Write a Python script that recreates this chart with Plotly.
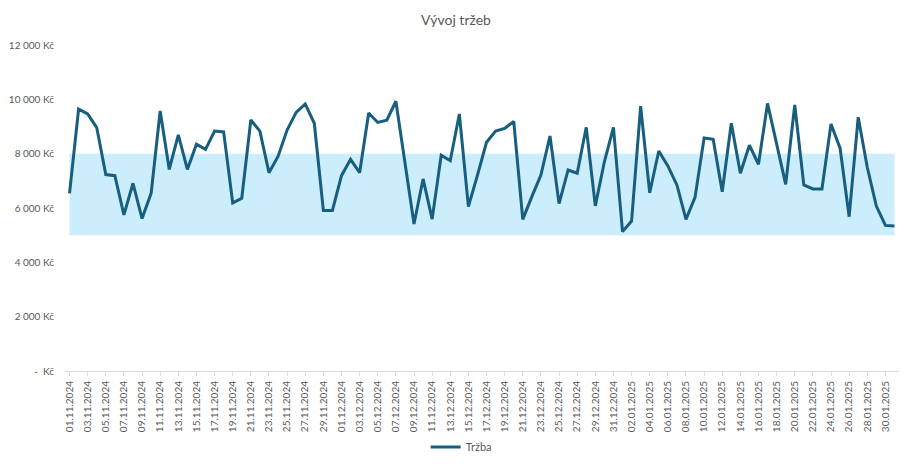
import pandas as pd
import plotly.graph_objects as go

dates = [d.strftime("%d.%m.%Y") for d in pd.date_range("2024-11-01", "2025-01-31", freq="D")]

trzba = [
    6540, 9640, 9460, 8960, 7230, 7190, 5750, 6910, 5610, 6540,
    9570, 7420, 8690, 7420, 8350, 8160, 8830, 8800, 6190, 6360,
    9240, 8830, 7300, 7900, 8870, 9520, 9830, 9120, 5910, 5910,
    7190, 7790, 7300, 9500, 9150, 9230, 9930, 7680, 5410, 7070,
    5590, 7940, 7740, 9460, 6050, 7210, 8420, 8830, 8930, 9190,
    5580, 6420, 7210, 8650, 6160, 7400, 7280, 8970, 6080, 7700,
    8970, 5130, 5520, 9750, 6560, 8100, 7550, 6850, 5580, 6390,
    8580, 8530, 6600, 9120, 7280, 8310, 7610, 9850, 8340, 6870,
    9790, 6850, 6700, 6700, 9090, 8200, 5680, 9340, 7500, 6070,
    5360, 5340,
]

band_low = 5000
band_high = 8000

y_ticks = [0, 2000, 4000, 6000, 8000, 10000, 12000]
y_labels = [" -  Kč", "2 000 Kč", "4 000 Kč", "6 000 Kč", "8 000 Kč", "10 000 Kč", "12 000 Kč"]

x_ticks = dates[::2]

fig = go.Figure()
fig.add_shape(type="rect", xref="x", yref="y", x0=dates[0], x1=dates[-1],
              y0=band_low, y1=band_high, fillcolor="#CCEEFC", line_width=0, layer="below")
fig.add_trace(go.Scatter(x=dates, y=trzba, mode="lines", name="Tržba",
                         line=dict(color="#175E7F", width=3)))

fig.update_layout(
    width=912, height=467,
    margin=dict(l=65, r=13, t=45, b=96, autoexpand=False),
    paper_bgcolor="white", plot_bgcolor="white",
    font=dict(family="Lato, Calibri, sans-serif", color="#595959", size=10),
    title=dict(text="Vývoj tržeb", x=0.5, xanchor="center", y=0.957, yanchor="middle",
               font=dict(size=14, color="#595959")),
    showlegend=True,
    legend=dict(orientation="h", x=0.475, xanchor="center", y=-0.233, yanchor="middle",
                itemwidth=30, font=dict(size=11, color="#595959")),
    xaxis=dict(type="category", range=[-0.5, len(dates) - 0.5], automargin=False,
               tickvals=x_ticks, ticktext=x_ticks, tickangle=-90, ticklabelstandoff=5,
               showgrid=False, zeroline=False, showline=True, linecolor="#D9D9D9",
               ticks="", tickfont=dict(size=10, color="#595959"),
               minor=dict(ticks="outside", ticklen=4, tickcolor="#D9D9D9", tick0=-0.5, dtick=2)),
    yaxis=dict(range=[0, 12000], tickvals=y_ticks, ticktext=y_labels, automargin=False,
               showgrid=False, zeroline=False, showline=False, ticks="", ticklabelstandoff=10,
               tickfont=dict(size=10, color="#595959")),
)

fig.write_html("out.html")
